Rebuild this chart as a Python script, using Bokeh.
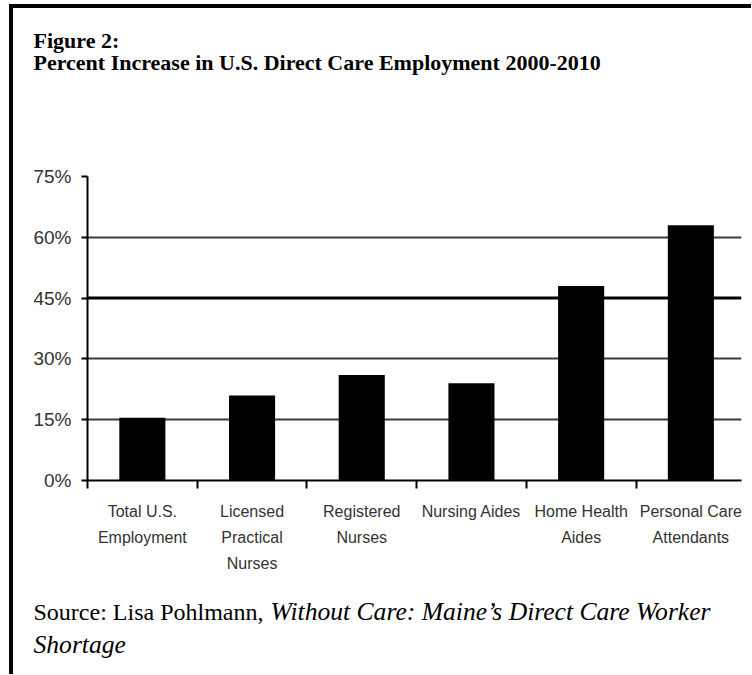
from bokeh.plotting import figure
from bokeh.models import FixedTicker, Span, Label, Range1d
from bokeh.layouts import column
from bokeh.embed import file_html
from bokeh.resources import INLINE

# ---- data ----
categories = ["Total U.S.\nEmployment", "Licensed\nPractical\nNurses", "Registered\nNurses",
              "Nursing Aides", "Home Health\nAides", "Personal Care\nAttendants"]
increase_pct = [15.5, 21, 26, 24, 48, 63]
y_ticks = [0, 15, 30, 45, 60, 75]
y_tick_labels = ["0%", "15%", "30%", "45%", "60%", "75%"]
title_lines = ["Figure 2:", "Percent Increase in U.S. Direct Care Employment 2000-2010"]
source_plain = "Source: Lisa Pohlmann, "
source_italic = ["Without Care: Maine\u2019s Direct Care Worker", "Shortage"]

x = list(range(len(categories)))
boundaries = [i - 0.5 for i in x]

SANS = "Liberation Sans"
SERIF = "Liberation Serif"

W = 738                      # content left edge sits at page x = 13
OX = 13
TOP_Y, CHART_Y, BOT_Y = 8, 98, 578   # page y where each strip starts
TOP_H, CHART_H, BOT_H = CHART_Y - TOP_Y, BOT_Y - CHART_Y, 674 - BOT_Y


def text_strip(h):
    f = figure(width=W, height=h, output_backend="svg", toolbar_location=None,
               x_range=Range1d(0, W), y_range=Range1d(h, 0),
               x_axis_type=None, y_axis_type=None, min_border=0)
    f.frame_align = False
    f.outline_line_color = None
    f.grid.visible = False
    f.background_fill_color = "white"
    f.border_fill_color = "white"
    return f


def add_text(f, strip_y, page_x, page_baseline, text, style="normal", size="20px"):
    f.add_layout(Label(x=page_x - OX, y=page_baseline - strip_y, text=text,
                       text_font=SERIF, text_font_size=size, text_font_style=style,
                       text_baseline="alphabetic", text_color="black"))


# ---- title strip ----
p_top = text_strip(TOP_H)
add_text(p_top, TOP_Y, 33, 40, title_lines[0], "bold", "22px")
add_text(p_top, TOP_Y, 33, 62, title_lines[1], "bold", "22px")

# ---- chart ----
frame_top, frame_bottom = 176 - CHART_Y, 480 - CHART_Y
p = figure(width=W, height=CHART_H, output_backend="svg", toolbar_location=None,
           x_range=Range1d(-0.5, -0.5 + 654 / 109.7), y_range=Range1d(0, 75),
           min_border_left=74, min_border_right=W - 74 - 654, min_border_top=frame_top,
           min_border_bottom=CHART_H - frame_bottom)
p.frame_align = False
p.outline_line_color = None
p.background_fill_color = "white"
p.border_fill_color = "white"

p.vbar(x=x, top=increase_pct, width=0.42, fill_color="black", line_color=None)

p.xgrid.grid_line_color = None
p.ygrid[0].ticker = FixedTicker(ticks=[15, 30, 60])
p.ygrid.grid_line_color = "#3a3a3a"
p.ygrid.grid_line_width = 2
p.add_layout(Span(location=45, dimension="width", line_color="black", line_width=3,
                  level="underlay"))

yax = p.yaxis[0]
yax.ticker = FixedTicker(ticks=y_ticks)
yax.major_label_overrides = dict(zip(y_ticks, y_tick_labels))
yax.axis_line_color = "black"
yax.axis_line_width = 2
yax.major_tick_out = 6
yax.major_tick_in = 0
yax.major_tick_line_width = 2
yax.major_tick_line_color = "black"
yax.minor_tick_line_color = None
yax.major_label_standoff = 10
yax.major_label_text_font = SANS
yax.major_label_text_font_size = "19px"
yax.major_label_text_color = "#333333"

xax = p.xaxis[0]
xax.ticker = FixedTicker(ticks=x, minor_ticks=boundaries)
xax.major_label_overrides = dict(zip(x, categories))
xax.axis_line_color = "black"
xax.axis_line_width = 2
xax.major_tick_line_color = None
xax.major_tick_out = 8
xax.major_tick_in = 0
xax.minor_tick_line_color = "black"
xax.minor_tick_line_width = 2
xax.minor_tick_out = 8
xax.minor_tick_in = 0
xax.major_label_standoff = 14
xax.major_label_text_font = SANS
xax.major_label_text_font_size = "16px"
xax.major_label_text_color = "#333333"
xax.major_label_text_line_height = 1.55

# ---- source strip ----
p_bot = text_strip(BOT_H)
add_text(p_bot, BOT_Y, 33, 611, source_plain, "normal", "24px")
add_text(p_bot, BOT_Y, 270, 611, source_italic[0], "italic", "25.6px")
add_text(p_bot, BOT_Y, 33, 644, source_italic[1], "italic", "25.6px")

layout = column(p_top, p, p_bot, spacing=0,
                styles={"margin-left": "9px", "margin-top": "4px",
                        "border-left": "4px solid black", "border-top": "4px solid black"})

open("out.html", "w").write(file_html(layout, INLINE))
